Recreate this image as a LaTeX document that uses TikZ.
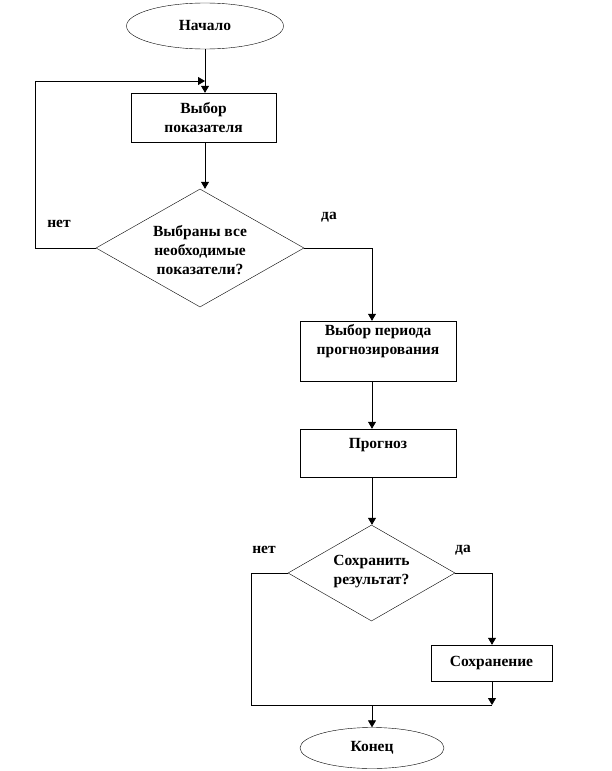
\documentclass[tikz,border=0pt]{standalone}
\usepackage{fontspec}
\setmainfont{Liberation Serif}
\usetikzlibrary{shapes.geometric,arrows.meta}
\begin{document}
\begin{tikzpicture}[x=1pt,y=-1pt,
  every node/.style={font=\fontsize{15.5}{19}\selectfont\bfseries},
  box/.style={draw,rectangle,inner sep=0pt,align=center},
  term/.style={draw,ellipse,inner sep=0pt},
  dec/.style={draw,diamond,inner sep=0pt},
  txt/.style={align=center,inner sep=0pt},
  lbl/.style={inner sep=0pt},
  conn/.style={line width=0.8pt},
  arr/.style={conn,-{Triangle[width=8pt,length=7pt]}}]
\useasboundingbox (0,0) rectangle (612,771);
\node[term,minimum width=157pt,minimum height=46pt] (start) at (205,26) {Начало};
\node[box,minimum width=145pt,minimum height=49pt] (b1) at (203.5,117.5) {Выбор\\показателя};
\node[dec,minimum width=208pt,minimum height=118pt] (d1) at (200,248) {};
\node[txt] (t1) at (200,250) {Выбраны все\\необходимые\\показатели?};
\node[box,minimum width=156pt,minimum height=60pt] (b2) at (378,351) {Выбор периода\\прогнозирования\\[4pt]};
\node[box,minimum width=156pt,minimum height=48pt] (b3) at (378,453) {Прогноз\\~};
\node[dec,minimum width=167pt,minimum height=96pt] (d2) at (371.5,573) {};
\node[txt] (t2) at (371.5,572) {Сохранить\\результат?};
\node[box,minimum width=121pt,minimum height=36pt] (b4) at (491.5,663) {Сохранение};
\node[term,minimum width=144pt,minimum height=41pt] (end) at (372,748) {Конец};
\node[lbl] (l1) at (59,224) {нет};
\node[lbl] (l2) at (329,217) {да};
\node[lbl] (l3) at (264,550) {нет};
\node[lbl] (l4) at (463,550) {да};
\coordinate (j1) at (205,81);
\coordinate (j2) at (492,705);
\coordinate (j3) at (372,705);
\draw[arr] (start.south -| j1) -- (b1.north -| j1);
\draw[arr] (b1.south -| j1) -- (j1 |- d1.north);
\draw[arr] (d1.west) -- ++(-60,0) |- (j1);
\draw[arr] (d1.east) -| (b2.north -| j3);
\draw[arr] (b2.south -| j3) -- (b3.north -| j3);
\draw[arr] (b3.south -| j3) -- (d2.north -| j3);
\draw[arr] (d2.east) -| (b4.north -| j2);
\draw[arr] (b4.south -| j2) -- (j2);
\draw[conn] (d2.west) -- ++(-36,0) |- (j2);
\draw[arr] (j3) -- (end.north);
\end{tikzpicture}
\end{document}
